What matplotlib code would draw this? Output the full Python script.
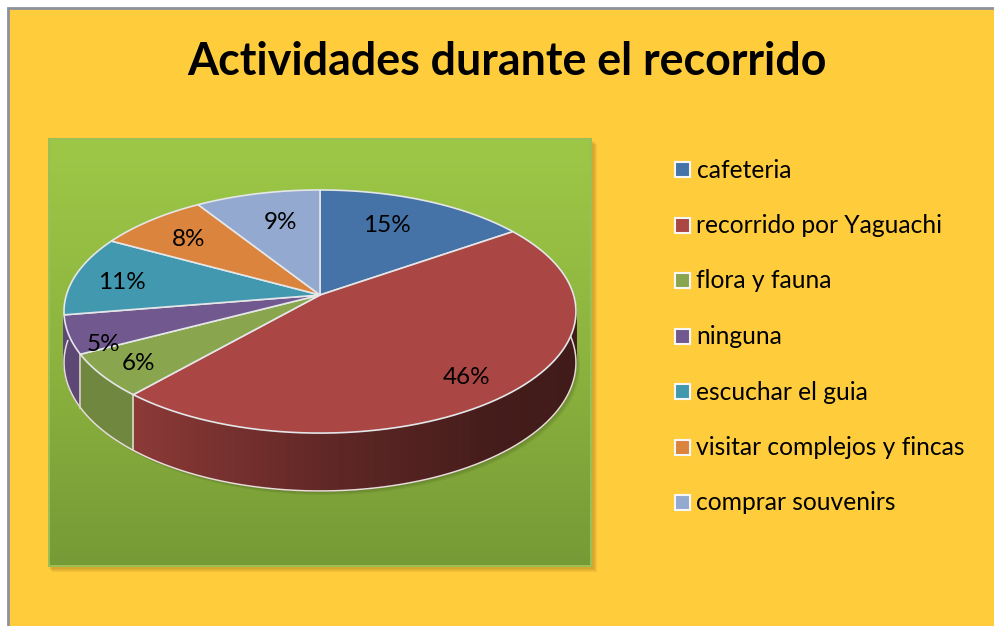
import numpy as np
import matplotlib
matplotlib.use('Agg')
import matplotlib.pyplot as plt
from matplotlib.patches import Rectangle, Polygon
from matplotlib.colors import LinearSegmentedColormap, to_rgb

# Data
title = "Actividades durante el recorrido"
categories = ["cafeteria", "recorrido por Yaguachi", "flora y fauna", "ninguna",
              "escuchar el guia", "visitar complejos y fincas", "comprar souvenirs"]
values = [15.3, 46.2, 5.8, 5.1, 10.6, 8.0, 9.0]
colors = ["#4572A7", "#AA4643", "#89A54E", "#71588F", "#4198AF", "#DB843D", "#93A9CF"]

# Pie geometry, in pixels
cx, cy = 320, 295
rx, ry = 253.6, 119.3
k = 0.136
depth = 50
label_r = 0.7
label_shift = [(-9, -1), (19, 15), (-33, 14), (-43, 22), (-26, 1), (-10, -2), (6, 1)]


def project(theta, r=1.0):
    u = r * np.sin(np.radians(theta))
    v = r * np.cos(np.radians(theta))
    w = 1 + k * v
    return cx + rx * u / w, cy - ry * v / w


def drop(theta):
    # height of the pie side at this angle
    return depth / (1 + k * np.cos(np.radians(theta)))


plt.rcParams['font.family'] = ['Lato', 'DejaVu Sans']
fig = plt.figure(figsize=(9.95, 6.26), dpi=100, facecolor='white')
ax = fig.add_axes([0, 0, 1, 1])
ax.axis('off')

# Chart area
ax.add_patch(Rectangle((8, 8), 1000, 640, fc='#FFCD3C', ec='#8C919B', lw=2, zorder=0))

# Plot area with shadow and green gradient
for i in range(4):
    ax.add_patch(Rectangle((49 + i, 141 + i), 545, 428, fc='#7A5A10', ec='none', alpha=0.09, zorder=1))
ax.add_patch(Rectangle((48, 138), 544, 429, fc='#9BBF55', ec='none', zorder=2))
green = LinearSegmentedColormap.from_list('green', ['#9DC847', '#8DB43F', '#769A36'])
ax.imshow(np.linspace(0, 1, 256).reshape(-1, 1), cmap=green, aspect='auto',
          extent=(50, 590, 565, 140), zorder=3)

# Soft shadow under the pie
theta_side = np.linspace(54, 270, 200)
for i in range(4):
    pts = [(project(t)[0] + 1 + i, project(t)[1] + drop(t) + 1 + i) for t in theta_side]
    ax.add_patch(Polygon(pts + [(320, 320)], fc='#2E3A10', ec='none', alpha=0.08, zorder=4))

# Side of the pie, dark to the right
angles = np.cumsum([0] + values) * 3.6
for i in range(4):
    start, end = angles[i], angles[i + 1]
    if end <= 90:
        continue
    steps = np.linspace(max(start, 85), min(end, 275), 80)
    base = np.array(to_rgb(colors[i]))
    for a, b in zip(steps[:-1], steps[1:]):
        xa, ya = project(a)
        xb, yb = project(b)
        xm = (xa + xb) / 2
        shade = np.interp(xm, [80, 134, 340, 500, 576], [0.82, 0.82, 0.55, 0.40, 0.38])
        col = base * shade
        ax.add_patch(Polygon([(xa, ya), (xb, yb), (xb, yb + drop(b)), (xa, ya + drop(a))],
                             fc=col, ec=col, lw=0.6, zorder=5))

# Lower rim of the side
ts = np.linspace(85, 272, 200)
x, y = zip(*[project(t) for t in ts])
ax.plot(x, np.array(y) + [drop(t) for t in ts], color='#E6DCD8', lw=1.1, zorder=6)

# Side seams between slices
for a in angles[2:4]:
    x, y = project(a)
    ax.plot([x, x], [y, y + drop(a)], color='#DDD8C8', lw=1.2, zorder=6)

# Top face
for i, val in enumerate(values):
    ts = np.linspace(angles[i], angles[i + 1], 80)
    pts = [project(t) for t in ts]
    ax.add_patch(Polygon([(cx, cy)] + pts, closed=True, fc=colors[i], ec='#E4E6E8',
                         lw=1.2, joinstyle='round', zorder=7))

# Percent labels
for i, val in enumerate(values):
    mid = (angles[i] + angles[i + 1]) / 2
    x, y = project(mid, label_r)
    ax.text(x + label_shift[i][0], y + label_shift[i][1], f"{val:.0f}%", fontsize=17.5,
            ha='center', va='center', color='black', zorder=8)

# Legend
legend_y = 170
legend_gap = 55.5
for i, name in enumerate(categories):
    y = legend_y + i * legend_gap
    ax.add_patch(Rectangle((675, y - 8), 15, 15, fc=colors[i], ec='#F6F6F6', lw=1.5, zorder=8))
    ax.text(696.5, y, name, fontsize=17.7, ha='left', va='center', color='black', zorder=8)

ax.text(507, 62, title, fontsize=32.2, fontweight='bold', ha='center', va='center', color='black', zorder=8)

ax.set_xlim(0, 995)
ax.set_ylim(626, 0)
fig.savefig('out.png', dpi=100, facecolor='white')
